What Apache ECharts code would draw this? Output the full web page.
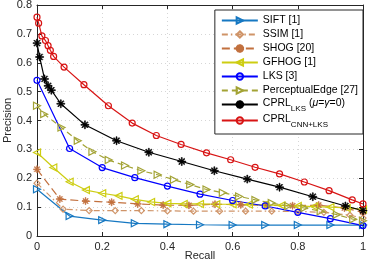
<!DOCTYPE html>
<html><head><meta charset="utf-8">
<script src="https://cdn.jsdelivr.net/npm/echarts@6/dist/echarts.min.js"></script>
<style>html,body{margin:0;padding:0;background:#fff}#c{width:369px;height:264px}</style>
</head><body><div id="c"></div>
<script>
// ---- data ----
const xTicks = [0, 0.2, 0.4, 0.6, 0.8, 1];
const yTicks = [0, 0.1, 0.2, 0.3, 0.4, 0.5, 0.6, 0.7, 0.8];
const seriesNames = ['SIFT [1]', 'SSIM [1]', 'SHOG [20]', 'GFHOG [1]', 'LKS [3]', 'PerceptualEdge [27]', 'CPRL_LKS', 'CPRL_CNN'];

const siftR = [0, 0.1, 0.2, 0.3, 0.4, 0.5, 0.6, 0.7, 0.8, 0.9, 1.0];
const siftP = [0.162, 0.069, 0.055, 0.044, 0.041, 0.039, 0.038, 0.038, 0.038, 0.038, 0.038];

const ssimR = [0, 0.08, 0.16, 0.24, 0.32, 0.4, 0.48, 0.56, 0.64, 0.72, 0.8, 0.88, 0.96, 1.0];
const ssimP = [0.183, 0.093, 0.088, 0.088, 0.088, 0.087, 0.086, 0.086, 0.086, 0.086, 0.085, 0.082, 0.072, 0.062];

const shogR = [0, 0.07, 0.149, 0.229, 0.309, 0.387, 0.466, 0.546, 0.625, 0.705, 0.784, 0.864, 0.943, 1.0];
const shogP = [0.231, 0.128, 0.121, 0.117, 0.111, 0.107, 0.106, 0.110, 0.108, 0.106, 0.105, 0.107, 0.097, 0.082];

const gfhogR = [0, 0.05, 0.1, 0.15, 0.2, 0.25, 0.3, 0.35, 0.4, 0.45, 0.5, 0.55, 0.6, 0.65, 0.7, 0.75, 0.8, 0.85, 0.9, 0.95, 1.0];
const gfhogP = [0.289, 0.237, 0.188, 0.159, 0.148, 0.139, 0.127, 0.118, 0.113, 0.111, 0.111, 0.110, 0.110, 0.109, 0.108, 0.106, 0.104, 0.102, 0.100, 0.097, 0.092];

const lksR = [0, 0.1, 0.2, 0.3, 0.4, 0.5, 0.6, 0.7, 0.8, 0.9, 1.0];
const lksP = [0.539, 0.303, 0.237, 0.202, 0.173, 0.145, 0.123, 0.104, 0.082, 0.060, 0.036];

const peR = [0, 0.022, 0.075, 0.125, 0.17, 0.22, 0.27, 0.32, 0.37, 0.42, 0.47, 0.52, 0.57, 0.62, 0.67, 0.72, 0.77, 0.82, 0.87, 0.92, 0.97, 1.0];
const peP = [0.451, 0.422, 0.376, 0.33, 0.292, 0.263, 0.244, 0.226, 0.212, 0.195, 0.178, 0.161, 0.150, 0.137, 0.125, 0.114, 0.104, 0.097, 0.086, 0.074, 0.058, 0.053];

const cprlLksR = [0, 0.008, 0.023, 0.034, 0.044, 0.073, 0.147, 0.244, 0.343, 0.444, 0.544, 0.645, 0.744, 0.846, 0.946, 1.0];
const cprlLksP = [0.668, 0.62, 0.544, 0.52, 0.505, 0.458, 0.385, 0.330, 0.290, 0.258, 0.226, 0.197, 0.169, 0.136, 0.104, 0.088];

const cprlCnnR = [0, 0.005, 0.015, 0.026, 0.034, 0.041, 0.051, 0.083, 0.144, 0.219, 0.292, 0.366, 0.442, 0.52, 0.594, 0.669, 0.744, 0.82, 0.896, 0.967, 1.0];
const cprlCnnP = [0.758, 0.737, 0.693, 0.677, 0.659, 0.643, 0.622, 0.585, 0.524, 0.451, 0.391, 0.348, 0.317, 0.288, 0.264, 0.238, 0.215, 0.187, 0.157, 0.125, 0.111];

// ---- build ----
const zip = (r, p) => r.map((v, i) => [v, p[i]]);
const FONT = 'Liberation Sans';
const AX = '#262626';
const ASTER = 'path://M0 4.4L10 4.4L10 5.6L0 5.6Z M4.4 0L5.6 0L5.6 10L4.4 10Z M1.88 1.04L8.96 8.12L8.12 8.96L1.04 1.88Z M8.12 1.04L8.96 1.88L1.88 8.96L1.04 8.12Z';

function mk(name, r, p, color, symbol, opts) {
  opts = opts || {};
  const filled = !!opts.filled;
  return {
    type: 'line', name: name, data: zip(r, p), clip: false,
    symbol: symbol, symbolSize: opts.size || 6, symbolRotate: opts.rotate || 0,
    symbolKeepAspect: true,
    lineStyle: { color: color, width: 1.2, type: opts.dash || 'solid' },
    itemStyle: filled ? { color: color, borderColor: color, borderWidth: 0.6 }
                      : { color: 'rgba(255,255,255,0)', borderColor: color, borderWidth: 1.2 },
    emphasis: { disabled: true },
    animation: false
  };
}

const series = [
  mk(seriesNames[0], siftR, siftP, '#1678C2', 'triangle', { rotate: -90, size: 7 }),
  mk(seriesNames[1], ssimR, ssimP, '#CF9468', 'diamond', { dash: [6, 3, 1.5, 3], size: 6 }),
  mk(seriesNames[2], shogR, shogP, '#C2703E', ASTER, { dash: [8, 4], filled: true, size: 7 }),
  mk(seriesNames[3], gfhogR, gfhogP, '#CDCD12', 'triangle', { rotate: 90, size: 7 }),
  mk(seriesNames[4], lksR, lksP, '#0000FF', 'circle', { size: 6 }),
  mk(seriesNames[5], peR, peP, '#A3A335', 'triangle', { rotate: -90, dash: [6, 4], size: 7 }),
  mk(seriesNames[6], cprlLksR, cprlLksP, '#000000', ASTER, { filled: true, size: 8 }),
  mk(seriesNames[7], cprlCnnR, cprlCnnP, '#D81414', 'circle', { size: 6 })
];

const chart = echarts.init(document.getElementById('c'), null, { renderer: 'canvas' });
const baseAxis = {
  axisLine: { show: true, onZero: false, lineStyle: { color: AX, width: 1 } },
  axisTick: { show: true, inside: true, length: 4, lineStyle: { color: AX } },
  axisLabel: { show: false },
  splitLine: { show: false }
};
chart.setOption({
  backgroundColor: '#fff',
  animation: false,
  grid: { left: 37, right: 6, top: 5, bottom: 28, containLabel: false, outerBoundsMode: 'none' },
  xAxis: [
    Object.assign({}, baseAxis, {
      type: 'value', min: xTicks[0], max: xTicks[xTicks.length - 1], interval: 0.2, position: 'bottom',
      name: 'Recall', nameLocation: 'middle', nameGap: 14, nameMoveOverlap: false,
      nameTextStyle: { fontFamily: FONT, fontSize: 11, color: AX },
      axisLabel: { show: true, margin: 5, fontFamily: FONT, fontSize: 11, color: AX,
        formatter: v => { const t = xTicks.find(x => Math.abs(x - v) < 1e-9); return t === undefined ? '' : String(t); } },
      splitLine: { show: true, lineStyle: { color: '#d6d6d6', type: [1, 3], width: 1 } }
    }),
    Object.assign({}, baseAxis, { type: 'value', min: 0, max: 1, interval: 0.2, position: 'top' })
  ],
  yAxis: [
    Object.assign({}, baseAxis, {
      type: 'value', min: yTicks[0], max: yTicks[yTicks.length - 1], interval: 0.1, position: 'left',
      name: 'Precision', nameLocation: 'middle', nameGap: 24, nameMoveOverlap: false,
      nameTextStyle: { fontFamily: FONT, fontSize: 11, color: AX },
      axisLabel: { show: true, margin: 5, fontFamily: FONT, fontSize: 11, color: AX,
        formatter: v => { const t = yTicks.find(x => Math.abs(x - v) < 1e-9); return t === undefined ? '' : String(t); } },
      splitLine: { show: true, lineStyle: { color: '#d6d6d6', type: [1, 3], width: 1 } }
    }),
    Object.assign({}, baseAxis, { type: 'value', min: 0, max: 0.8, interval: 0.1, position: 'right' })
  ],
  legend: {
    orient: 'vertical', right: 6, top: 10,
    data: seriesNames,
    itemWidth: 36, itemHeight: 8, itemGap: 1,
    padding: [4, 5, 5, 6],
    backgroundColor: '#fff', borderColor: AX, borderWidth: 1,
    selectedMode: false,
    textStyle: {
      fontFamily: FONT, fontSize: 10.5, color: '#000', lineHeight: 13,
      rich: {
        n: { fontFamily: FONT, fontSize: 10.5, lineHeight: 13, verticalAlign: 'top', color: '#000' },
        i: { fontFamily: FONT, fontSize: 10.5, lineHeight: 13, verticalAlign: 'top', fontStyle: 'italic', color: '#000' },
        s: { fontFamily: FONT, fontSize: 8, lineHeight: 8, verticalAlign: 'top', padding: [7, 0, 0, 0], color: '#000' }
      }
    },
    formatter: function (name) {
      if (name === 'CPRL_LKS') return '{n|CPRL}{s|LKS}{n| (}{i|μ}{n|=}{i|γ}{n|=0)}';
      if (name === 'CPRL_CNN') return '{n|CPRL}{s|CNN+LKS}';
      return name;
    }
  },
  series: series
});
</script></body></html>
